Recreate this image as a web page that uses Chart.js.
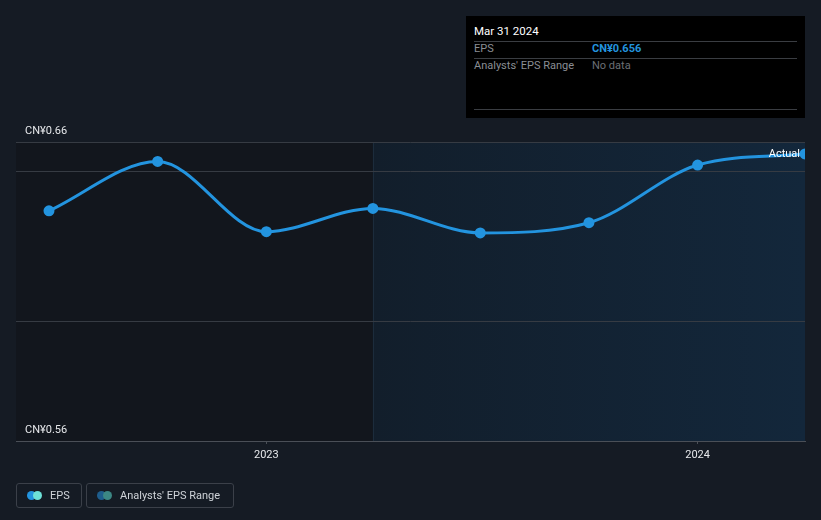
<!DOCTYPE html>
<html><head><meta charset="utf-8">
<script src="https://cdn.jsdelivr.net/npm/chart.js@4/dist/chart.umd.min.js"></script>
<style>
html,body{margin:0;padding:0;background:#151b24;font-family:Roboto,"Open Sans",sans-serif;}
#wrap{position:relative;width:821px;height:520px;overflow:hidden;}
canvas{position:absolute;left:0;top:0;}
#tip{position:absolute;left:466px;top:16px;width:339px;height:102px;background:#000;color:#fff;font-size:11px;}
#tip .t{position:absolute;left:8px;top:8px;font-size:11.5px;color:#fff;}
#tip .ln{position:absolute;left:8px;right:8px;height:1px;background:#3a3d42;}
#tip .k{position:absolute;left:8px;color:#8a8e94;}
#tip .v{position:absolute;left:126px;}
.leg{position:absolute;top:483px;height:25px;border:1px solid #3b4049;border-radius:3px;color:#cfd3d8;font-size:11px;box-sizing:border-box;}
.leg .d{position:absolute;top:7px;width:9px;height:9px;border-radius:50%;}
.leg span.tx{position:absolute;top:5px;}
</style></head>
<body><div id="wrap">
<canvas id="c" width="821" height="520"></canvas>
<div id="tip">
 <div class="t" id="tipDate"></div>
 <div class="ln" style="top:25px"></div>
 <div class="k" style="top:26px">EPS</div><div class="v" id="tipVal" style="top:26px;color:#2394df;font-weight:bold"></div>
 <div class="ln" style="top:42px"></div>
 <div class="k" style="top:43px">Analysts' EPS Range</div><div class="v" style="top:43px;color:#6b6f75">No data</div>
 <div class="ln" style="top:93px"></div>
</div>
<div class="leg" style="left:16px;width:66px">
 <div class="d" style="left:10px;background:#2394df"></div><div class="d" style="left:16px;background:#6ee2d8"></div>
 <span class="tx" style="left:33px">EPS</span>
</div>
<div class="leg" style="left:86px;width:148px">
 <div class="d" style="left:10px;background:#1e5d8c"></div><div class="d" style="left:16px;background:#3c8784"></div>
 <span class="tx" style="left:33px">Analysts' EPS Range</span>
</div>
</div>
<script>
// Data (x as fractional year: quarter-end dates)
const dates = [2022.496, 2022.748, 2023.0, 2023.247, 2023.496, 2023.748, 2024.0, 2024.249];
const eps = [0.637, 0.6535, 0.630, 0.6378, 0.6296, 0.633, 0.6523, 0.656];
const xTickValues = [2023, 2024];
const xTickLabels = ['2023', '2024'];
const yTickValues = [0.56, 0.60, 0.65, 0.66];
const yLabels = {0.56: 'CN¥0.56', 0.66: 'CN¥0.66'};
const pastStart = 2023.247;
const tipDate = 'Mar 31 2024';
const tipValue = 'CN¥0.656';

document.getElementById('tipDate').textContent = tipDate;
document.getElementById('tipVal').textContent = tipValue;

const bgPlugin = {
  id: 'bg',
  beforeDraw(chart) {
    const {ctx, chartArea: a, scales: {x}} = chart;
    const sx = x.getPixelForValue(pastStart);
    ctx.save();
    ctx.fillStyle = '#12161d';
    ctx.fillRect(a.left, a.top, sx - a.left, a.bottom - a.top);
    const g = ctx.createLinearGradient(sx, 0, a.right, 0);
    g.addColorStop(0, '#121e2b');
    g.addColorStop(1, '#13273b');
    ctx.fillStyle = g;
    ctx.fillRect(sx, a.top, a.right - sx, a.bottom - a.top);
    ctx.strokeStyle = '#1c2c3c';
    ctx.lineWidth = 1;
    ctx.beginPath(); ctx.moveTo(Math.round(sx) + 0.5, a.top); ctx.lineTo(Math.round(sx) + 0.5, a.bottom); ctx.stroke();
    ctx.restore();
  },
  afterDatasetsDraw(chart) {
    const {ctx} = chart;
    const meta = chart.getDatasetMeta(0);
    const p = meta.data[meta.data.length - 1];
    ctx.save();
    ctx.font = '11px Roboto, sans-serif';
    ctx.fillStyle = '#ffffff';
    ctx.textAlign = 'right';
    ctx.textBaseline = 'middle';
    ctx.fillText('Actual', p.x - 5, p.y);
    ctx.restore();
  }
};

new Chart(document.getElementById('c'), {
  type: 'line',
  data: {
    datasets: [{
      data: dates.map((d, i) => ({x: d, y: eps[i]})),
      borderColor: '#2394df',
      backgroundColor: '#2394df',
      borderWidth: 3,
      pointRadius: 4,
      pointHoverRadius: 4,
      cubicInterpolationMode: 'monotone',
      clip: {left: 6, top: 6, right: 0, bottom: 6}
    }]
  },
  options: {
    responsive: false,
    animation: false,
    events: [],
    layout: {padding: {left: 16, right: 16, top: 142, bottom: 0}},
    plugins: {legend: {display: false}, tooltip: {enabled: false}},
    scales: {
      x: {
        type: 'linear',
        min: 2022.4195,
        max: 2024.249,
        afterBuildTicks(s) { s.ticks = xTickValues.map(v => ({value: v})); },
        afterFit(s) { s.height = 79; },
        ticks: {
          callback(v) { const i = xTickValues.indexOf(v); return i >= 0 ? xTickLabels[i] : ''; },
          color: '#e6e8eb', font: {size: 11, family: 'Roboto'}, maxRotation: 0, padding: 5
        },
        grid: {display: true, drawOnChartArea: false, drawTicks: true, tickLength: 3, color: '#4a4f57'},
        border: {display: true, color: '#4a4f57'}
      },
      y: {
        min: 0.56,
        max: 0.66,
        afterBuildTicks(s) { s.ticks = yTickValues.map(v => ({value: v})); },
        afterFit(s) { s.width = 0; },
        ticks: {
          mirror: true,
          padding: 9,
          labelOffset: -11,
          callback(v) { return yLabels[Math.round(v * 100) / 100] || ''; },
          color: '#e6e8eb', font: {size: 11, family: 'Roboto'}
        },
        grid: {drawTicks: false, color: '#363b43'},
        border: {display: false}
      }
    }
  },
  plugins: [bgPlugin]
});
</script>
</body></html>
